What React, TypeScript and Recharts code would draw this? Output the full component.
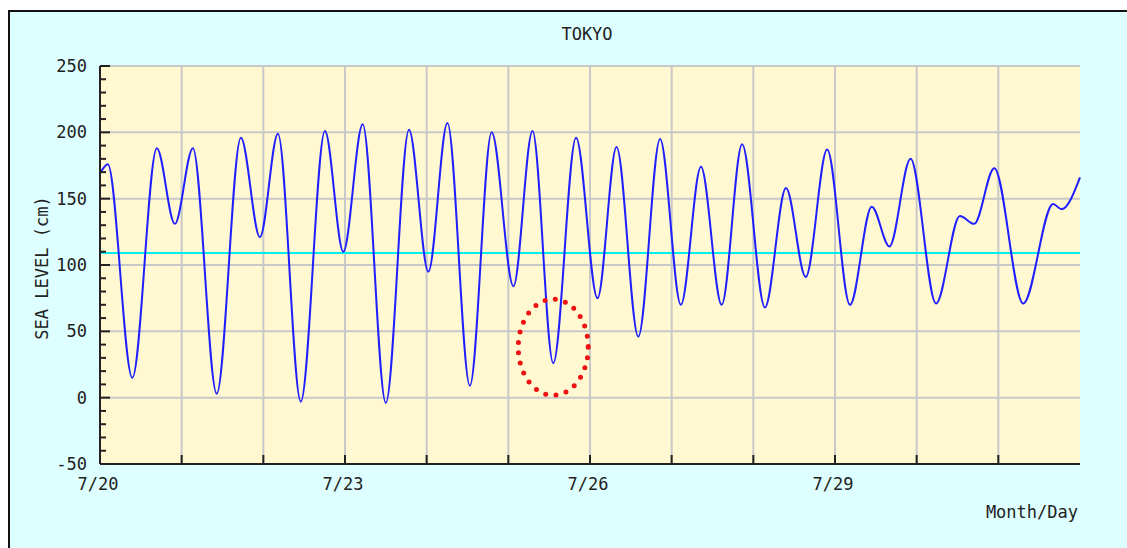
import { LineChart, Line, XAxis, YAxis, CartesianGrid, ReferenceLine, ReferenceDot } from "recharts"

// hours since 7/20 00:00, read at each turning point of the tide curve
const hours = [
  0, 2.3, 9.5, 16.7, 22, 27.3, 34.3, 41.4, 47, 52.3, 59, 66.1, 71.5, 77.2, 84, 90.8,
  96.5, 102.1, 108.7, 115.1, 121.5, 127.1, 133.2, 139.9, 146.2, 151.8, 158.2, 164.6,
  170.7, 176.6, 182.7, 188.7, 195.4, 201.6, 207.4, 213.7, 220.4, 226.8, 232, 238.2,
  245.7, 252.7, 256.9, 262.8, 271.3, 280.1, 282.6, 288,
]
// sea level (cm)
const levels = [
  169, 176, 15, 188, 131, 188, 3, 196, 121, 199, -3, 201, 110, 206, -4, 202,
  95, 207, 9, 200, 84, 201, 26, 196, 75, 189, 46, 195,
  70, 174, 70, 191, 68, 158, 91, 187, 70, 144, 114, 180,
  71, 137, 131, 173, 71, 146, 142, 166,
]

const dayTicks = [0, 24, 48, 72, 96, 120, 144, 168, 192, 216, 240, 264]
const dayLabels = ["7/20", "", "", "7/23", "", "", "7/26", "", "", "7/29", "", ""]
const levelTicks = [
  -50, -40, -30, -20, -10, 0, 10, 20, 30, 40, 50, 60, 70, 80, 90, 100, 110, 120, 130, 140,
  150, 160, 170, 180, 190, 200, 210, 220, 230, 240, 250,
]
const majorLevels = [-50, 0, 50, 100, 150, 200, 250]
const meanLevel = 109
const markedLow = { hour: 133.2, level: 38 }

const FONT = "'DejaVu Sans Mono', monospace"
const INK = "#222"

function DayTick({ x, y, payload }: any) {
  const label = dayLabels[dayTicks.indexOf(payload.value)]
  return (
    <g>
      <line x1={x} x2={x} y1={y} y2={y - 9} stroke={INK} strokeWidth={2} />
      {label && (
        <text x={x - 2} y={y + 26} textAnchor="middle" fontFamily={FONT} fontSize={17} fill={INK}>
          {label}
        </text>
      )}
    </g>
  )
}

function LevelTick({ x, y, payload }: any) {
  const major = majorLevels.includes(payload.value)
  return (
    <g>
      <line x1={x} x2={x + (major ? 10 : 6)} y1={y} y2={y} stroke={INK} strokeWidth={2} />
      {major && (
        <text x={x - 13} y={y} textAnchor="end" dominantBaseline="central" fontFamily={FONT} fontSize={17} fill={INK}>
          {payload.value}
        </text>
      )}
    </g>
  )
}

// red dotted ring drawn around the marked low water
const dottedRing = (p: any) => (
  <ellipse
    cx={p.cx}
    cy={p.cy}
    rx={35}
    ry={48}
    fill="none"
    stroke="#ee1111"
    strokeWidth={5}
    strokeLinecap="round"
    strokeDasharray="0 10.45"
  />
)

export default function App() {
  const data = hours.map((hour, i) => ({ hour, level: levels[i] }))

  return (
    <div style={{ position: "absolute", left: 0, top: 0, width: 1127, height: 548, background: "#fff", overflow: "hidden" }}>
      <div
        style={{
          position: "absolute",
          left: 8,
          top: 10,
          right: 0,
          bottom: 0,
          background: "#ddffff",
          borderLeft: "2px solid #111",
          borderTop: "2px solid #111",
        }}
      />
      <div style={{ position: "absolute", left: 0, top: 0 }}>
        <LineChart width={1127} height={548} data={data} margin={{ top: 66, right: 47, bottom: 0, left: 0 }}>
          <CartesianGrid
            fill="#fff8d0"
            fillOpacity={1}
            stroke="#c8c8c8"
            strokeWidth={2}
            horizontalValues={majorLevels}
            verticalValues={dayTicks}
          />
          <XAxis
            dataKey="hour"
            type="number"
            domain={[0, 288]}
            ticks={dayTicks}
            interval={0}
            height={84}
            tickSize={0}
            tickMargin={0}
            tickLine={false}
            tick={<DayTick />}
            axisLine={{ stroke: INK, strokeWidth: 2 }}
          />
          <YAxis
            type="number"
            domain={[-50, 250]}
            ticks={levelTicks}
            interval={0}
            width={100}
            tickSize={0}
            tickMargin={0}
            tickLine={false}
            tick={<LevelTick />}
            axisLine={{ stroke: INK, strokeWidth: 2 }}
          />
          <ReferenceLine y={meanLevel} stroke="#00eeee" strokeWidth={2} />
          <Line
            dataKey="level"
            type="monotone"
            stroke="#1f1fff"
            strokeWidth={2}
            dot={false}
            activeDot={false}
            isAnimationActive={false}
          />
          <ReferenceDot x={markedLow.hour} y={markedLow.level} shape={dottedRing} />
        </LineChart>
      </div>
      <svg width={1127} height={548} style={{ position: "absolute", left: 0, top: 0, pointerEvents: "none" }}>
        <text x={587} y={40} textAnchor="middle" fontFamily={FONT} fontSize={17} fill={INK}>
          TOKYO
        </text>
        <text
          x={0}
          y={0}
          transform="translate(48 268) rotate(-90)"
          textAnchor="middle"
          fontFamily={FONT}
          fontSize={17}
          fill={INK}
        >
          SEA LEVEL (cm)
        </text>
        <text x={1078} y={518} textAnchor="end" fontFamily={FONT} fontSize={17} fill={INK}>
          Month/Day
        </text>
      </svg>
    </div>
  )
}
